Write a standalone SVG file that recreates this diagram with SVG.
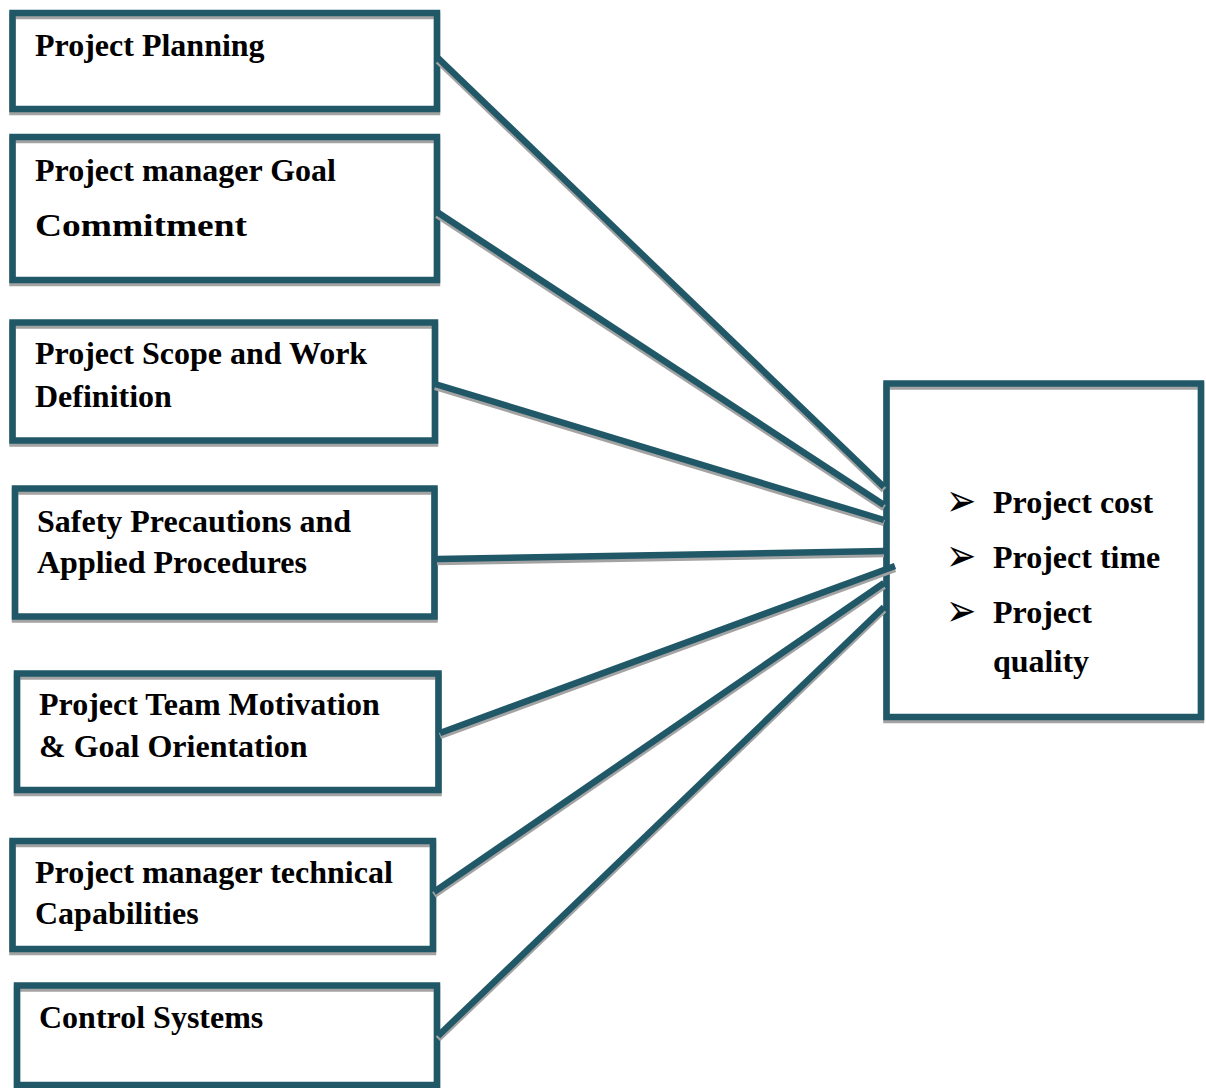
<svg xmlns="http://www.w3.org/2000/svg" width="1206" height="1088" viewBox="0 0 1206 1088">
  <style>
    .box { fill: none; stroke: #215868; stroke-width: 6.5; }
    .bg { fill: #ffffff; stroke: none; }
    .shadow { fill: none; stroke: #a3a3a3; stroke-width: 6.5; }
    .lbl { font-family: "Liberation Serif", "Times New Roman", serif; font-weight: bold; font-size: 32px; fill: #000000; }
    .bullet { font-family: "DejaVu Sans", sans-serif; font-size: 38px; fill: #000000; }
    .conn { stroke: #215868; stroke-width: 6.5; stroke-linecap: butt; fill: none; }
    .conn-sh { stroke: #a3a3a3; stroke-width: 6.5; stroke-linecap: butt; fill: none; }
  </style>
  <rect width="1206" height="1088" fill="#ffffff"/>

  <!-- factor boxes -->
  <g id="node-planning">
    <rect class="bg" x="12.5" y="13" width="424.5" height="96"/>
    <rect class="shadow" x="12.5" y="16" width="424.5" height="96"/>
    <rect class="box" x="12.5" y="13" width="424.5" height="96"/>
    <text class="lbl" x="35" y="56">Project Planning</text>
  </g>

  <g id="node-goal-commitment">
    <rect class="bg" x="12.5" y="137" width="424.5" height="143"/>
    <rect class="shadow" x="12.5" y="140" width="424.5" height="143"/>
    <rect class="box" x="12.5" y="137" width="424.5" height="143"/>
    <text class="lbl" x="35" y="181">Project manager Goal</text>
    <text class="lbl" x="35" y="236" font-size="33" textLength="212" lengthAdjust="spacingAndGlyphs">Commitment</text>
  </g>

  <g id="node-scope">
    <rect class="bg" x="12.5" y="322.5" width="422.5" height="118"/>
    <rect class="shadow" x="12.5" y="325.5" width="422.5" height="118"/>
    <rect class="box" x="12.5" y="322.5" width="422.5" height="118"/>
    <text class="lbl" x="35" y="364">Project Scope and Work</text>
    <text class="lbl" x="35" y="407">Definition</text>
  </g>

  <g id="node-safety">
    <rect class="bg" x="15" y="488.5" width="419.5" height="128"/>
    <rect class="shadow" x="15" y="491.5" width="419.5" height="128"/>
    <rect class="box" x="15" y="488.5" width="419.5" height="128"/>
    <text class="lbl" x="37" y="532">Safety Precautions and</text>
    <text class="lbl" x="37" y="573">Applied Procedures</text>
  </g>

  <g id="node-team">
    <rect class="bg" x="17" y="673.5" width="421.5" height="116.5"/>
    <rect class="shadow" x="17" y="676.5" width="421.5" height="116.5"/>
    <rect class="box" x="17" y="673.5" width="421.5" height="116.5"/>
    <text class="lbl" x="39" y="715">Project Team Motivation</text>
    <text class="lbl" x="39" y="757">&amp; Goal Orientation</text>
  </g>

  <g id="node-technical">
    <rect class="bg" x="12.5" y="841" width="420.5" height="108"/>
    <rect class="shadow" x="12.5" y="844" width="420.5" height="108"/>
    <rect class="box" x="12.5" y="841" width="420.5" height="108"/>
    <text class="lbl" x="35" y="883">Project manager technical</text>
    <text class="lbl" x="35" y="924">Capabilities</text>
  </g>

  <g id="node-control">
    <rect class="bg" x="17" y="985.5" width="420" height="99.5"/>
    <rect class="shadow" x="17" y="988.5" width="420" height="99.5"/>
    <rect class="box" x="17" y="985.5" width="420" height="99.5"/>
    <text class="lbl" x="39" y="1028">Control Systems</text>
  </g>

  <!-- outcome box -->
  <g id="node-outcomes">
    <rect class="bg" x="886.5" y="383.5" width="314.5" height="333.5"/>
    <rect class="shadow" x="886.5" y="386.5" width="314.5" height="333.5"/>
    <rect class="box" x="886.5" y="383.5" width="314.5" height="333.5"/>
    <text class="bullet" transform="translate(946,516) scale(0.95,1.2)">➢</text>
    <text class="lbl" x="993" y="513">Project cost</text>
    <text class="bullet" transform="translate(946,571) scale(0.95,1.2)">➢</text>
    <text class="lbl" x="993" y="568">Project time</text>
    <text class="bullet" transform="translate(946,626) scale(0.95,1.2)">➢</text>
    <text class="lbl" x="993" y="623">Project</text>
    <text class="lbl" x="993" y="672">quality</text>
  </g>

  <!-- connectors -->
  <g id="connectors">
    <g transform="translate(0,3)">
      <line class="conn-sh" x1="438" y1="58" x2="884" y2="487"/>
      <line class="conn-sh" x1="437" y1="212" x2="884" y2="505"/>
      <line class="conn-sh" x1="435" y1="384" x2="884" y2="520"/>
      <line class="conn-sh" x1="437" y1="559" x2="884" y2="551"/>
      <line class="conn-sh" x1="440" y1="733" x2="895" y2="566"/>
      <line class="conn-sh" x1="434" y1="892" x2="884" y2="583"/>
      <line class="conn-sh" x1="438" y1="1036" x2="884" y2="607"/>
    </g>
    <line class="conn" x1="438" y1="58" x2="884" y2="487"/>
    <line class="conn" x1="437" y1="212" x2="884" y2="505"/>
    <line class="conn" x1="435" y1="384" x2="884" y2="520"/>
    <line class="conn" x1="437" y1="559" x2="884" y2="551"/>
    <line class="conn" x1="440" y1="733" x2="895" y2="566"/>
    <line class="conn" x1="434" y1="892" x2="884" y2="583"/>
    <line class="conn" x1="438" y1="1036" x2="884" y2="607"/>
  </g>
</svg>
